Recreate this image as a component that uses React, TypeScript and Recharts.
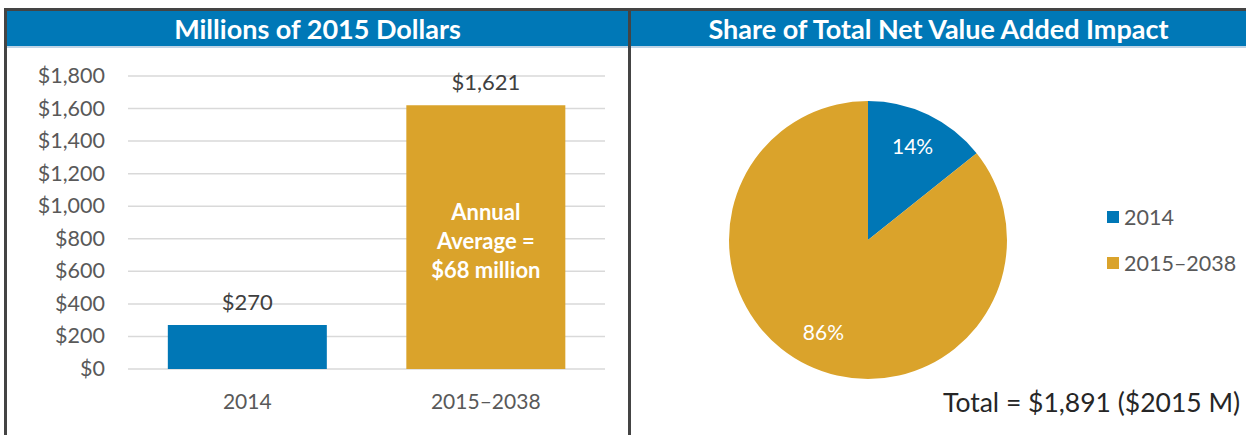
import React from 'react';
import { BarChart, Bar, XAxis, YAxis, CartesianGrid, LabelList, Cell, PieChart, Pie, Legend } from 'recharts';

const categories = ['2014', '2015–2038'];
const values = [270, 1621];
const colors = ['#0077B6', '#DAA32B'];
const yTicks = [0, 200, 400, 600, 800, 1000, 1200, 1400, 1600, 1800];
const barLabels = ['$270', '$1,621'];
const innerNote = ['Annual', 'Average =', '$68 million'];
const pieLabels = ['14%', '86%'];
const leftTitle = 'Millions of 2015 Dollars';
const rightTitle = 'Share of Total Net Value Added Impact';
const totalNote = 'Total = $1,891 ($2015 M)';

const FONT = 'Lato, "Open Sans", sans-serif';

const barData = categories.map((c, i) => ({ name: c, value: values[i], label: barLabels[i] }));
const pieData = categories.map((c, i) => ({ name: c, value: values[i], label: pieLabels[i] }));

const fmt = (v: number) => '$' + v.toLocaleString('en-US');

const YTick = (props: any) => {
  const { x, y, payload } = props;
  return (
    <text x={x - 15} y={y} dy={7} textAnchor="end" fill="#595959" fontSize={21.5} fontFamily={FONT}>
      {fmt(payload.value)}
    </text>
  );
};

const XTick = (props: any) => {
  const { x, y, payload } = props;
  return (
    <text x={x} y={y} dy={32} textAnchor="middle" fill="#595959" fontSize={21} fontFamily={FONT}>
      {payload.value}
    </text>
  );
};

const InnerLabel = (props: any) => {
  const { x, y, width, height, index } = props;
  if (index !== 1) return null;
  const cx = x + width / 2;
  const cy = y + height / 2;
  return (
    <text textAnchor="middle" fill="#ffffff" fontSize={22} fontWeight={700} fontFamily={FONT}>
      {innerNote.map((t, i) => (
        <tspan key={i} x={cx} y={cy + 12 + (i - 1) * 29}>{t}</tspan>
      ))}
    </text>
  );
};

const PieLabel = (props: any) => {
  const { cx, cy, midAngle, outerRadius, index } = props;
  const RAD = Math.PI / 180;
  const r = outerRadius * 0.74;
  const x = cx + r * Math.cos(-midAngle * RAD);
  const y = cy + r * Math.sin(-midAngle * RAD);
  return (
    <text x={x} y={y} dy={7} textAnchor="middle" fill="#ffffff" fontSize={21} fontFamily={FONT}>
      {pieData[index].label}
    </text>
  );
};

const LegendContent = (props: any) => {
  const { payload } = props;
  return (
    <div style={{ fontFamily: FONT }}>
      {(payload || []).map((p: any, i: number) => (
        <div key={i} style={{ display: 'flex', alignItems: 'center', height: 46 }}>
          <span style={{ display: 'inline-block', width: 12, height: 12, background: p.color, marginRight: 5 }} />
          <span style={{ fontSize: 21.5, color: '#595959' }}>{p.value}</span>
        </div>
      ))}
    </div>
  );
};

const headerStyle: React.CSSProperties = {
  position: 'absolute',
  top: 11,
  height: 35,
  background: '#0078B7',
  color: '#ffffff',
  fontFamily: FONT,
  fontWeight: 700,
  fontSize: 27,
  display: 'flex',
  alignItems: 'center',
  justifyContent: 'center',
  borderBottom: '2px solid #BFD4E6',
  whiteSpace: 'nowrap',
};

export default function App() {
  return (
    <div style={{ position: 'absolute', left: 0, top: 0, width: 1246, height: 435, background: '#ffffff', overflow: 'hidden' }}>
      <div style={{ position: 'absolute', left: 4, top: 8, width: 1242, height: 3, background: '#444' }} />
      <div style={{ position: 'absolute', left: 4, top: 8, width: 3, height: 427, background: '#444' }} />
      <div style={{ position: 'absolute', left: 628, top: 8, width: 3, height: 427, background: '#444' }} />
      <div style={{ ...headerStyle, left: 7, width: 621 }}>{leftTitle}</div>
      <div style={{ ...headerStyle, left: 631, width: 615 }}>{rightTitle}</div>

      <div style={{ position: 'absolute', left: 0, top: 50 }}>
        <BarChart width={628} height={385} data={barData} margin={{ top: 26, right: 23, left: 0, bottom: 26 }} barCategoryGap="16.7%">
          <CartesianGrid vertical={false} stroke="#D9D9D9" strokeWidth={1.5} />
          <YAxis width={128} domain={[0, 1800]} ticks={yTicks} axisLine={false} tickLine={false} tick={<YTick />} interval={0} />
          <XAxis dataKey="name" height={40} axisLine={false} tickLine={false} tick={<XTick />} />
          <Bar dataKey="value" isAnimationActive={false}>
            {barData.map((d, i) => (
              <Cell key={i} fill={colors[i]} />
            ))}
            <LabelList dataKey="label" position="top" offset={15} fill="#404040" fontSize={22} fontFamily={FONT} />
            <LabelList dataKey="value" content={<InnerLabel />} />
          </Bar>
        </BarChart>
      </div>

      <div style={{ position: 'absolute', left: 631, top: 50 }}>
        <PieChart width={615} height={385} margin={{ top: 0, right: 0, bottom: 0, left: 0 }}>
          <Pie
            data={pieData}
            dataKey="value"
            nameKey="name"
            cx={237}
            cy={190}
            outerRadius={139}
            startAngle={90}
            endAngle={-270}
            stroke="none"
            label={<PieLabel />}
            labelLine={false}
            isAnimationActive={false}
          >
            {pieData.map((d, i) => (
              <Cell key={i} fill={colors[i]} />
            ))}
          </Pie>
          <Legend
            layout="vertical"
            content={<LegendContent />}
            wrapperStyle={{ left: 476, top: 144, width: 140 }}
          />
        </PieChart>
      </div>

      <div style={{ position: 'absolute', left: 943, top: 386, fontFamily: FONT, fontSize: 26.5, color: '#262626', whiteSpace: 'nowrap' }}>
        {totalNote}
      </div>
    </div>
  );
}
